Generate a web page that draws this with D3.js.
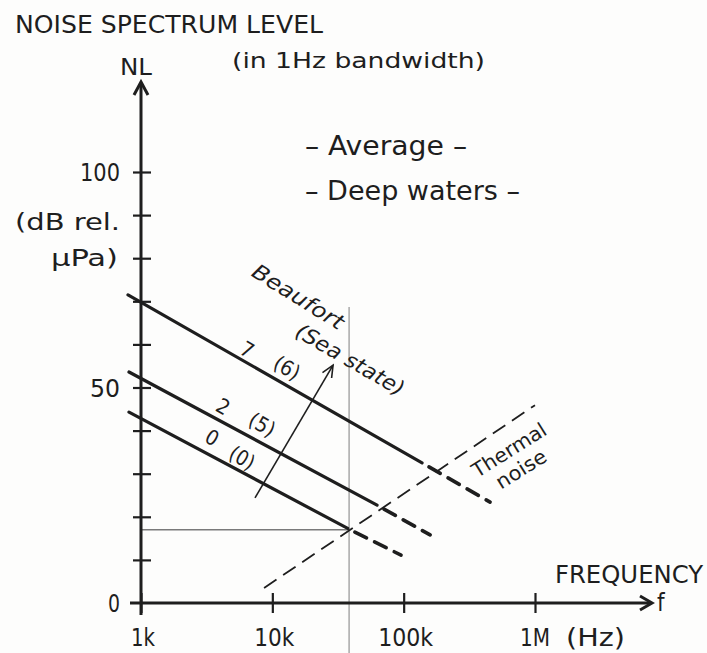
<!DOCTYPE html>
<html><head><meta charset="utf-8">
<script src="https://cdn.jsdelivr.net/npm/d3@7"></script>
<style>
html,body{margin:0;padding:0;background:#fdfdfc;}
svg{display:block;}
text{font-family:"DejaVu Sans Condensed","DejaVu Sans",sans-serif;fill:#1e1e1e;}
</style></head>
<body>
<script>
// ---------- data ----------
const freqTicks = [1e3, 1e4, 1e5, 1e6];
const freqTickLabels = ["1k", "10k", "100k", "1M"];
const levelTicks = [10, 20, 30, 40, 50, 60, 70, 80, 90, 100];
const levelLabelValues = [0, 50, 100];
const levelLabels = ["0", "50", "100"];

const beaufortNumbers = ["0", "2", "7"];
const seaStateNumbers = ["(0)", "(5)", "(6)"];
// solid part of each ambient-noise curve: [start, end]
const solidFreq  = [[810, 37500], [810, 62700], [796, 138000]];
const solidLevel = [[44.3, 17.3], [53.6, 22.7], [71.5, 32.5]];
// dashed extension of each curve
const dashedFreq  = [[37500, 95500], [62700, 159000], [138000, 455000]];
const dashedLevel = [[17.3, 11.1], [22.7, 15.8], [32.5, 23.4]];
// label anchors on each curve (Beaufort number / sea state)
const beaufortLabelFreq = [3470, 4210, 6420];
const beaufortLabelLevel = [38.3, 45.5, 58.7];
const seaLabelFreq = [5880, 8350, 12900];
const seaLabelLevel = [33.6, 41.3, 54.5];

// thermal noise
const thermalFreq = [8650, 1000000];
const thermalLevel = [3.5, 45.9];

// reference lines (thin)
const refFreq = 38400;
const refLevel = 17;

// Beaufort arrow
const arrowFreq = [7380, 29000];
const arrowLevel = [24.4, 55.2];

// ---------- layout ----------
const W = 707, H = 653;
const x = d3.scaleLog().domain([1e3, 1e6]).range([141, 535]);
const y = d3.scaleLinear().domain([0, 100]).range([603, 172]);
const ink = "#1e1e1e";

const svg = d3.select("body").append("svg").attr("width", W).attr("height", H);
svg.append("rect").attr("width", W).attr("height", H).attr("fill", "#fdfdfc");

function txt(s, px, py, size, len, anchor) {
  const t = svg.append("text").attr("x", px).attr("y", py)
    .attr("font-size", size).text(s);
  if (anchor) t.attr("text-anchor", anchor);
  if (len) t.attr("textLength", len).attr("lengthAdjust", "spacingAndGlyphs");
  return t;
}

// ---------- thin reference lines ----------
svg.append("line")
  .attr("x1", x(refFreq)).attr("x2", x(refFreq))
  .attr("y1", y(68.7)).attr("y2", H)
  .attr("stroke", "#8a8a8a").attr("stroke-width", 1.1);
svg.append("line")
  .attr("x1", x(1e3)).attr("x2", x(refFreq))
  .attr("y1", y(refLevel)).attr("y2", y(refLevel))
  .attr("stroke", "#7a7a7a").attr("stroke-width", 1.3);

// ---------- axes ----------
const yAxis = d3.axisRight(y).tickValues(levelTicks).tickSize(0).tickFormat("");
const yg = svg.append("g").attr("transform", `translate(${x(1e3)},0)`).call(yAxis);
yg.select(".domain").remove();
yg.selectAll(".tick").append("line")
  .attr("x1", -8).attr("x2", 10).attr("stroke", ink).attr("stroke-width", 2.2);
svg.append("line").attr("x1", x(1e3)).attr("x2", x(1e3))
  .attr("y1", 615).attr("y2", 84).attr("stroke", ink).attr("stroke-width", 3);
svg.append("path")
  .attr("d", `M${x(1e3) - 7},${95} L${x(1e3)},${82} L${x(1e3) + 7},${95}`)
  .attr("fill", "none").attr("stroke", ink).attr("stroke-width", 3);

const xAxis = d3.axisBottom(x).tickValues(freqTicks).tickSize(0).tickFormat("");
const xg = svg.append("g").attr("transform", `translate(0,${y(0)})`).call(xAxis);
xg.select(".domain").remove();
xg.selectAll(".tick").append("line")
  .attr("y1", -10).attr("y2", 10).attr("stroke", ink).attr("stroke-width", 2.2);
svg.append("line").attr("x1", 130).attr("x2", 650)
  .attr("y1", y(0)).attr("y2", y(0)).attr("stroke", ink).attr("stroke-width", 3);
svg.append("path")
  .attr("d", `M${640},${y(0) - 7} L${652},${y(0)} L${640},${y(0) + 7}`)
  .attr("fill", "none").attr("stroke", ink).attr("stroke-width", 3);

// tick labels
const xLabW = [24, 40, 55, 30];
freqTicks.forEach((f, i) => {
  if (i < 3) txt(freqTickLabels[i], x(f) + 2, 646, 25, xLabW[i], "middle");
  else txt(freqTickLabels[i], x(f) - 15, 646, 25, xLabW[i], "start");
});
txt("(Hz)", 566, 646, 25, 59, "start");
const yLabW = [12, 30, 40];
levelLabelValues.forEach((v, i) => {
  txt(levelLabels[i], 120, y(v) + 9, 25, yLabW[i], "end");
});

// ---------- curves ----------
const line = d3.line().x(d => x(d[0])).y(d => y(d[1]));
solidFreq.forEach((fr, i) => {
  svg.append("path")
    .attr("d", line([[fr[0], solidLevel[i][0]], [fr[1], solidLevel[i][1]]]))
    .attr("fill", "none").attr("stroke", ink).attr("stroke-width", 3.2)
    .attr("stroke-linecap", "round");
  svg.append("path")
    .attr("d", line([[dashedFreq[i][0], dashedLevel[i][0]], [dashedFreq[i][1], dashedLevel[i][1]]]))
    .attr("fill", "none").attr("stroke", ink).attr("stroke-width", 3.6)
    .attr("stroke-dasharray", "13 9").attr("stroke-dashoffset", 14)
    .attr("stroke-linecap", "round");
});

// thermal noise
svg.append("path")
  .attr("d", line(thermalFreq.map((f, i) => [f, thermalLevel[i]])))
  .attr("fill", "none").attr("stroke", ink).attr("stroke-width", 1.8)
  .attr("stroke-dasharray", "15 8");

// Beaufort arrow
{
  const x0 = x(arrowFreq[0]), y0 = y(arrowLevel[0]);
  const x1 = x(arrowFreq[1]), y1 = y(arrowLevel[1]);
  svg.append("line").attr("x1", x0).attr("y1", y0).attr("x2", x1).attr("y2", y1)
    .attr("stroke", ink).attr("stroke-width", 1.6);
  const a = Math.atan2(y1 - y0, x1 - x0), L = 13, s = 0.42;
  svg.append("path")
    .attr("d", `M${x1 - L * Math.cos(a - s)},${y1 - L * Math.sin(a - s)} L${x1},${y1} L${x1 - L * Math.cos(a + s)},${y1 - L * Math.sin(a + s)}`)
    .attr("fill", "none").attr("stroke", ink).attr("stroke-width", 1.6);
}

// rotated labels
function rot(s, f, v, ang, size, len, italic) {
  const t = svg.append("text")
    .attr("transform", `translate(${x(f)},${y(v)}) rotate(${ang})`)
    .attr("text-anchor", "middle").attr("dominant-baseline", "central")
    .attr("font-size", size).text(s);
  if (len) t.attr("textLength", len).attr("lengthAdjust", "spacingAndGlyphs");
  if (italic) t.attr("font-style", "italic");
  return t;
}
const numW = [12, 12, 12], seaW = [26, 27, 27];
beaufortNumbers.forEach((b, i) => {
  rot(b, beaufortLabelFreq[i], beaufortLabelLevel[i], 30, 21, numW[i]);
  rot(seaStateNumbers[i], seaLabelFreq[i], seaLabelLevel[i], 30, 21, seaW[i]);
});
rot("Beaufort", 15700, 71, 32, 21, 104, true);
rot("(Sea state)", 39000, 56.4, 30, 21, 122, true);
rot("Thermal", 635000, 35.5, -32, 20, 84);
rot("noise", 784000, 31.1, -32, 20, 56);

// ---------- titles / labels ----------
txt("NOISE SPECTRUM LEVEL", 15, 33, 24, 308);
txt("NL", 120, 75, 23, 32);
txt("(in 1Hz bandwidth)", 232, 68, 22, 253);
txt("– Average –", 305, 155, 26, 162);
txt("– Deep waters –", 305, 200, 26, 215);
txt("(dB rel.", 120, 230, 23, 105, "end");
txt("μPa)", 118, 266, 23, 67, "end");
txt("FREQUENCY", 555, 583, 24, 148);
txt("f", 657, 611, 24);
</script>
</body></html>
